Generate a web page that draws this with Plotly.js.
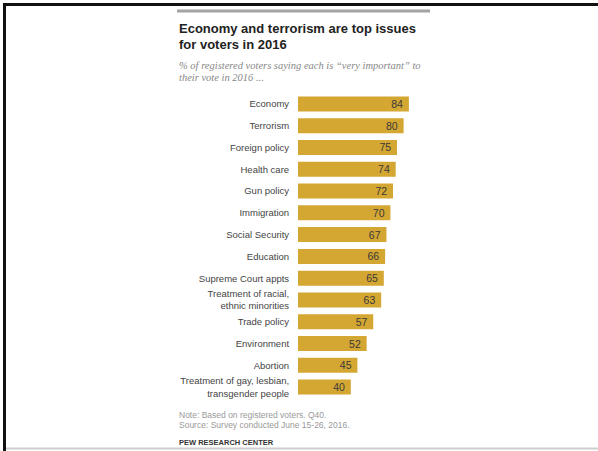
<!DOCTYPE html>
<html>
<head>
<meta charset="utf-8">
<script src="https://cdn.plot.ly/plotly-3.0.1.min.js"></script>
<style>html,body{margin:0;padding:0;background:#fff;}#chart{width:598px;height:451px;}</style>
</head>
<body>
<div id="chart"></div>
<script>
// Data
const issues = [
  "Economy", "Terrorism", "Foreign policy", "Health care", "Gun policy",
  "Immigration", "Social Security", "Education", "Supreme Court appts",
  "Treatment of racial,<br>ethnic minorities", "Trade policy", "Environment",
  "Abortion", "Treatment of gay, lesbian,<br>transgender people"
];
const pctVeryImportant = [84, 80, 75, 74, 72, 70, 67, 66, 65, 63, 57, 52, 45, 40];

const titleLines = ["Economy and terrorism are top issues", "for voters in 2016"];
const subtitleLines = ["% of registered voters saying each is \u201cvery important\u201d to", "their vote in 2016 ..."];
const noteLines = ["Note: Based on registered voters. Q40.", "Source: Survey conducted June 15-26, 2016."];
const sourceName = "PEW RESEARCH CENTER";

// Layout geometry
const W = 598, H = 451;
const M = {l: 298, r: 168, t: 93, b: 53};
const plotW = W - M.l - M.r, plotH = H - M.t - M.b;
const px = x => (x - M.l) / plotW;
const py = y => (H - M.b - y) / plotH;

const sans = "Liberation Sans, Arial, sans-serif";
const serif = "Liberation Serif, Times New Roman, serif";

const trace = {
  type: "bar",
  orientation: "h",
  x: pctVeryImportant,
  y: issues,
  marker: {color: "#d4a632"},
  text: pctVeryImportant.map(v => v + "\u00a0"),
  textposition: "inside",
  insidetextanchor: "end",
  constraintext: "none",
  textfont: {family: sans, size: 10.5, color: "#3a3a3a"},
  hoverinfo: "none",
  cliponaxis: false
};

function ann(text, x, y, font) {
  return {text, xref: "paper", yref: "paper", x: px(x), y: py(y),
          xanchor: "left", yanchor: "middle", showarrow: false, font};
}

const annotations = [
  ann(titleLines[0], 177, 28, {family: sans, size: 13, color: "#222", weight: "bold"}),
  ann(titleLines[1], 177, 45, {family: sans, size: 13, color: "#222", weight: "bold"}),
  ann(subtitleLines[0], 177, 65, {family: serif, size: 10.5, color: "#888", style: "italic"}),
  ann(subtitleLines[1], 177, 77, {family: serif, size: 10.5, color: "#888", style: "italic"}),
  ann(noteLines[0], 177, 415, {family: sans, size: 8.5, color: "#9a9a9a"}),
  ann(noteLines[1], 177, 425, {family: sans, size: 8.5, color: "#9a9a9a"}),
  ann(sourceName, 177, 442, {family: sans, size: 7.5, color: "#333", weight: "bold"})
];

const shapes = [
  // gray rule above title
  {type: "line", xref: "paper", yref: "paper", x0: px(177), x1: px(430), y0: py(11), y1: py(11),
   line: {color: "#a3a3a3", width: 3}},
  // bottom gray line
  {type: "line", xref: "paper", yref: "paper", x0: px(4), x1: px(598), y0: py(448.5), y1: py(448.5),
   line: {color: "#cfcfcf", width: 2}},
  // black frame top
  {type: "line", xref: "paper", yref: "paper", x0: px(3), x1: px(598), y0: py(4.5), y1: py(4.5),
   line: {color: "#111", width: 3}},
  // black frame left
  {type: "line", xref: "paper", yref: "paper", x0: px(4.5), x1: px(4.5), y0: py(3), y1: py(451),
   line: {color: "#111", width: 3}}
];

const layout = {
  width: W, height: H,
  margin: M,
  paper_bgcolor: "#fff",
  plot_bgcolor: "#fff",
  showlegend: false,
  bargap: 0.31,
  xaxis: {range: [0, 100], visible: false, fixedrange: true},
  yaxis: {
    autorange: "reversed",
    showgrid: false, zeroline: false, showline: false,
    ticks: "outside", ticklen: 6, tickcolor: "rgba(0,0,0,0)",
    tickfont: {family: sans, size: 9.5, color: "#444"},
    fixedrange: true
  },
  annotations,
  shapes
};

Plotly.newPlot("chart", [trace], layout, {staticPlot: true, displayModeBar: false});
</script>
</body>
</html>
